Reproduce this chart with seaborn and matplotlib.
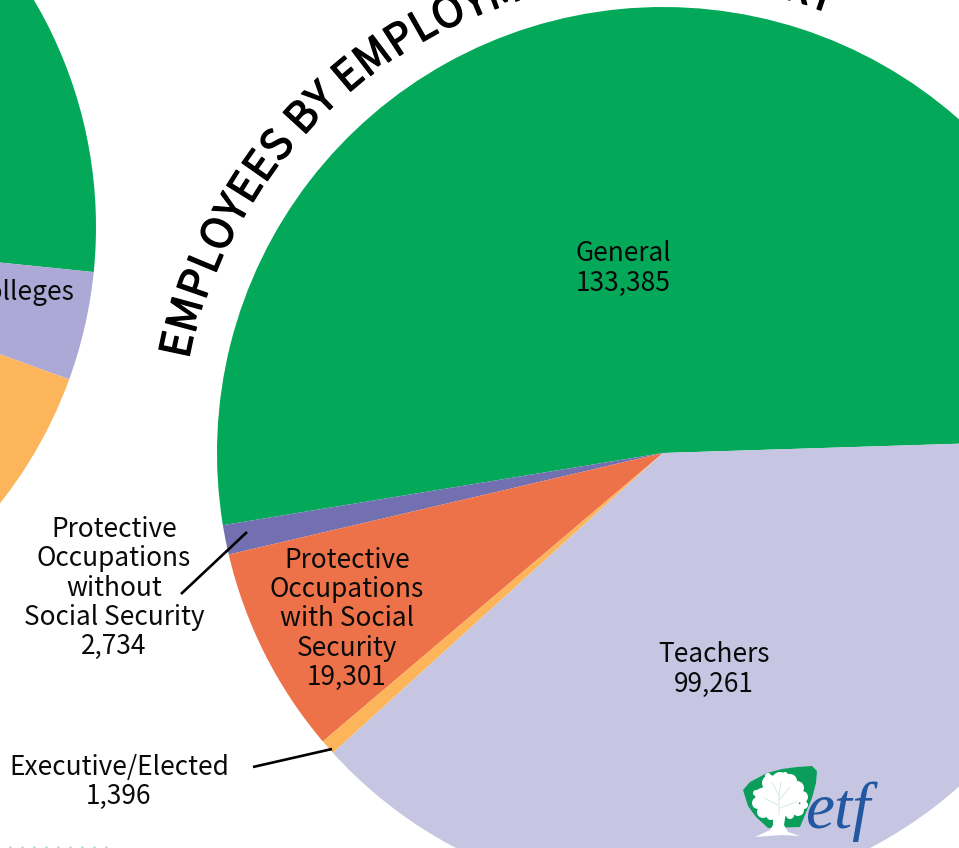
import numpy as np
import matplotlib
matplotlib.use("Agg")
import matplotlib.pyplot as plt
import matplotlib.patheffects as pe
from matplotlib.patches import Polygon, Circle
from matplotlib.textpath import TextPath
from matplotlib.font_manager import FontProperties
import seaborn as sns

# ---- data -------------------------------------------------------------
main_categories = ["General", "Protective Occupations without Social Security",
                   "Protective Occupations with Social Security",
                   "Executive/Elected", "Teachers"]
main_values = [133385, 2734, 19301, 1396, 99261]
main_colors = ["#04A859", "#7270B1", "#EE7249", "#FDB55B", "#C6C6E3"]

# only part of this pie is visible: shares are estimates
left_categories = ["State", "Colleges", "Other"]
left_values = [70.0, 3.94, 26.06]
left_colors = ["#04A859", "#ADA9D6", "#FDB55B"]

title_text = "EMPLOYEES BY EMPLOYMENT CATEGORY"
FONT = "Noto Sans CJK SC"

sns.set_theme(style="white")
plt.rcParams["font.family"] = [FONT, "DejaVu Sans"]

W, H = 959, 848
fig = plt.figure(figsize=(W / 100, H / 100), dpi=100)
ax = fig.add_axes([0, 0, 1, 1])

def Y(y):
    return H - y

ax.pie(main_values, colors=main_colors, startangle=1.8, counterclock=True,
       center=(663, Y(453)), radius=446, frame=True,
       wedgeprops=dict(linewidth=0))
ax.pie(left_values, colors=left_colors, startangle=246.2, counterclock=False,
       center=(-350, Y(227)), radius=446, frame=True,
       wedgeprops=dict(linewidth=0))
ax.set_xlim(0, W)
ax.set_ylim(0, H)
ax.set_aspect("equal")
ax.axis("off")

FS = 18.9
LS = 1.1
def label(x, y, s, **kw):
    ax.text(x, Y(y), s, ha=kw.pop("ha", "center"), va="center", fontsize=FS,
            color="#0a0a0a", linespacing=LS, **kw)

label(623, 268.5, "General\n133,385")
label(714, 669.5, "Teachers\n99,261")
label(347, 619, "Protective\nOccupations\nwith Social\nSecurity\n19,301")
label(114, 588, "Protective\nOccupations\nwithout\nSocial Security\n2,734")
label(119, 782, "Executive/Elected\n1,396")
label(74, 293, "Colleges", ha="right", clip_on=True)

ax.plot([181, 247], [Y(594), Y(532)], color="black", lw=1.9, solid_capstyle="butt")
ax.plot([253, 332], [Y(767), Y(749)], color="black", lw=1.9, solid_capstyle="butt")

# curved title
tc = (656, 459)
tr = 478
tfs = 30.5
track = 1.025
fp = FontProperties(family=FONT, size=tfs)
angle = 168.0
px_per_pt = 100 / 72
for i, ch in enumerate(title_text):
    wd = TextPath((0, 0), title_text[:i + 1] + "|", prop=fp).get_extents().x1 \
        - TextPath((0, 0), title_text[:i] + "|", prop=fp).get_extents().x1
    wd *= px_per_pt * track
    th = np.deg2rad(angle)
    ax.text(tc[0] + tr * np.cos(th), Y(tc[1]) + tr * np.sin(th), ch,
            fontproperties=fp, color="black", rotation=angle - 90,
            rotation_mode="anchor", ha="left", va="baseline", clip_on=True,
            path_effects=[pe.withStroke(linewidth=1.0, foreground="black")])
    angle -= np.rad2deg(wd / tr)

# tiny dots at the bottom edge
dot_x = [10, 22, 34, 46, 58, 70, 82, 94, 106]
ax.scatter(dot_x, [Y(847)] * len(dot_x), s=3, color="#A6D8C6", linewidths=0, clip_on=True)

# logo
shield = [(743, 790), (750, 782), (767, 773), (782, 769), (797, 767), (812, 766),
          (817, 771), (816, 783), (812, 798), (805, 815), (800, 827), (768, 828),
          (756, 817), (748, 806)]
ax.add_patch(Polygon([(x, Y(y)) for x, y in shield], closed=True, fc="#0A9E5A", ec="none", zorder=3))
blobs = [(780, 797, 20), (762, 795, 7), (758, 803, 6), (763, 812, 6), (770, 783, 8), (780, 780, 8),
         (790, 781, 7), (797, 788, 7), (802, 797, 6), (804, 805, 4), (798, 810, 6), (790, 815, 4),
         (771, 815, 5), (756, 793, 3), (768, 776, 3), (785, 775, 3)]
for x, y, r in blobs:
    ax.add_patch(Circle((x, Y(y)), r, fc="white", ec="none", zorder=4))
ax.add_patch(Polygon([(x, Y(y)) for x, y in [(773, 812), (786, 812), (784, 825), (788, 832),
                                              (800, 836), (782, 835), (755, 837), (770, 830),
                                              (773, 825)]],
                     closed=True, fc="white", ec="none", zorder=4))
branches = [[(779, 815), (779, 795), (772, 783)], [(779, 800), (790, 787)], [(778, 805), (764, 798)],
            [(780, 808), (796, 802)], [(779, 795), (781, 782)]]
for b in branches:
    ax.plot([p[0] for p in b], [Y(p[1]) for p in b], color="#CFE8DA", lw=0.6, zorder=5)
ax.text(806, Y(828), "etf", family="Liberation Serif", style="italic", fontsize=47,
        color="#23579F", ha="left", va="baseline", zorder=5)

fig.savefig("out.png", dpi=100, facecolor="white")
